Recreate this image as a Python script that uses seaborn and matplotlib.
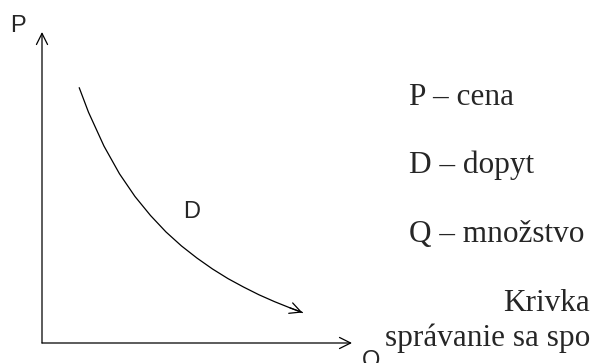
import matplotlib
matplotlib.use("Agg")
import matplotlib.pyplot as plt
import seaborn as sns

# Demand curve D: quantity (Q) vs price (P)
q = [1.2, 1.5, 2.0, 2.5, 3.0, 3.5, 4.0, 4.5, 5.0, 5.5, 6.0, 6.5, 7.0, 7.5, 8.0, 8.4]
p = [8.21, 7.42, 6.33, 5.44, 4.71, 4.10, 3.57, 3.12, 2.73, 2.38, 2.07, 1.80, 1.55, 1.33, 1.13, 0.98]

axis_labels = ["P", "Q"]
curve_label = "D"
legend_lines = ["P – cena", "D – dopyt", "Q – množstvo"]
body_lines = ["Krivka", "správanie sa spo"]

sns.set_style("white")
serif = ["Liberation Serif", "DejaVu Serif"]
sans = ["Liberation Sans", "DejaVu Sans"]

W, H = 592, 363
fig = plt.figure(figsize=(W / 100, H / 100), dpi=100)

# plot area in pixels: y axis at x=42, x axis at y=343, arrow tips at x=352 / y=32
left, right, top, bottom = 42, 352, 32, 343
ax = fig.add_axes([left / W, 1 - bottom / H, (right - left) / W, (bottom - top) / H])
ax.set_xlim(0, 10)
ax.set_ylim(0, 10)
ax.axis("off")

# axes drawn as arrows
arrow = dict(arrowstyle="->", color="black", lw=0.9, mutation_scale=20, shrinkA=0, shrinkB=0)
ax.annotate("", xy=(0, 1), xytext=(0, 0), xycoords="axes fraction", arrowprops=arrow)
ax.annotate("", xy=(1, 0), xytext=(0, 0), xycoords="axes fraction", arrowprops=arrow)

# demand curve with arrow head at the end
sns.lineplot(x=q, y=p, ax=ax, color="black", lw=0.9, sort=False, estimator=None)
ax.annotate("", xy=(q[-1], p[-1]), xytext=(q[-2], p[-2]), arrowprops=arrow)


def px(x, y):
    return x / W, 1 - y / H


fig.text(*px(10, 32), axis_labels[0], family=sans, fontsize=17, va="baseline")
fig.text(*px(362, 367), axis_labels[1], family=sans, fontsize=17, va="baseline")
fig.text(*px(183, 218), curve_label, family=sans, fontsize=17, va="baseline")

for txt, base in zip(legend_lines, [105, 173, 242]):
    fig.text(*px(409, base), txt, family=serif, fontsize=22.5, va="baseline")

fig.text(*px(503, 311), body_lines[0], family=serif, fontsize=22.5, va="baseline")
fig.text(*px(385, 346), body_lines[1], family=serif, fontsize=22.5, va="baseline")

fig.savefig("out.png", dpi=100)
